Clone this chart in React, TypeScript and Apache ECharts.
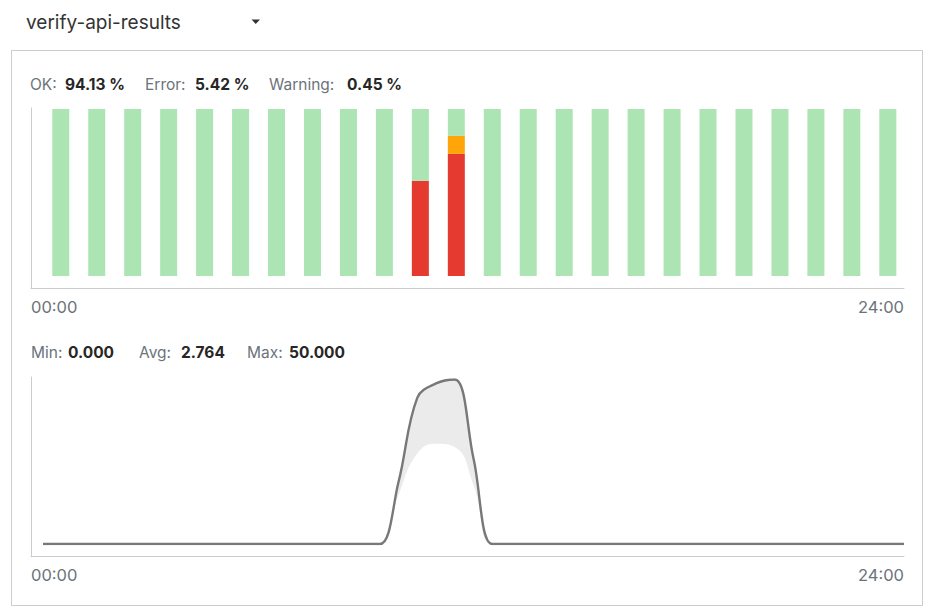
import React, { useEffect, useRef } from "react";
import * as echarts from "echarts";

const hours = [
  "00:00", "01:00", "02:00", "03:00", "04:00", "05:00", "06:00", "07:00",
  "08:00", "09:00", "10:00", "11:00", "12:00", "13:00", "14:00", "15:00",
  "16:00", "17:00", "18:00", "19:00", "20:00", "21:00", "22:00", "23:00",
];
const okPct = [100, 100, 100, 100, 100, 100, 100, 100, 100, 100, 42.9, 16.1, 100, 100, 100, 100, 100, 100, 100, 100, 100, 100, 100, 100];
const errorPct = [0, 0, 0, 0, 0, 0, 0, 0, 0, 0, 57.1, 73.1, 0, 0, 0, 0, 0, 0, 0, 0, 0, 0, 0, 0];
const warningPct = [0, 0, 0, 0, 0, 0, 0, 0, 0, 0, 0, 10.8, 0, 0, 0, 0, 0, 0, 0, 0, 0, 0, 0, 0];

const halfHours = [
  "00:00", "00:30", "01:00", "01:30", "02:00", "02:30", "03:00", "03:30",
  "04:00", "04:30", "05:00", "05:30", "06:00", "06:30", "07:00", "07:30",
  "08:00", "08:30", "09:00", "09:30", "10:00", "10:30", "11:00", "11:30",
  "12:00", "12:30", "13:00", "13:30", "14:00", "14:30", "15:00", "15:30",
  "16:00", "16:30", "17:00", "17:30", "18:00", "18:30", "19:00", "19:30",
  "20:00", "20:30", "21:00", "21:30", "22:00", "22:30", "23:00",
];
const maxValues = [
  0, 0, 0, 0, 0, 0, 0, 0, 0, 0, 0, 0, 0, 0, 0, 0, 0, 0,
  0, 19, 44.5, 48.8, 50, 26, 0,
  0, 0, 0, 0, 0, 0, 0, 0, 0, 0, 0, 0, 0, 0, 0, 0, 0, 0, 0, 0, 0, 0,
];
const lowerValues = [
  0, 0, 0, 0, 0, 0, 0, 0, 0, 0, 0, 0, 0, 0, 0, 0, 0, 0,
  0, 15, 27.5, 30.5, 29.5, 18, 0,
  0, 0, 0, 0, 0, 0, 0, 0, 0, 0, 0, 0, 0, 0, 0, 0, 0, 0, 0, 0, 0, 0,
];

const title = "verify-api-results";
const statusLabels = ["OK:", "Error:", "Warning:"];
const statusValues = ["94.13 %", "5.42 %", "0.45 %"];
const metricLabels = ["Min:", "Avg:", "Max:"];
const metricValues = ["0.000", "2.764", "50.000"];
const axisTickLabels = ["00:00", "24:00"];

const FONT = "Inter";
const GRAY = "#6b737b";
const DARK = "#262626";
const AXIS = "#cccccc";

const statusLabelX = [30, 145, 269];
const statusValueX = [65, 195, 347];
const metricLabelX = [31, 139, 247];
const metricValueX = [68, 181, 289];

const SMOOTH = 0.38;

function App() {
  const ref = useRef<HTMLDivElement>(null);
  useEffect(() => {
    if (!ref.current) return;
    const chart = echarts.init(ref.current, null, { renderer: "svg" });
    const diff = maxValues.map((v, i) => v - lowerValues[i]);

    const statText = (labels: string[], values: string[], lx: number[], vx: number[], y: number) => {
      const els: any[] = [];
      labels.forEach((l, i) => {
        els.push({
          type: "text", x: lx[i], y,
          style: { text: l, font: `15.5px ${FONT}`, fill: GRAY, textVerticalAlign: "middle" },
        });
        els.push({
          type: "text", x: vx[i], y,
          style: { text: values[i], font: `bold 15.5px ${FONT}`, fill: DARK, textVerticalAlign: "middle" },
        });
      });
      return els;
    };

    const frameX = (gridIndex: number) => ({
      type: "value", gridIndex, min: 0, max: 24, interval: 24,
      axisLine: { show: true, lineStyle: { color: AXIS, width: 1 } },
      axisTick: { show: false }, splitLine: { show: false },
      axisLabel: {
        show: true, margin: 10, fontSize: 16.5, fontFamily: FONT, color: GRAY,
        alignMinLabel: "left", alignMaxLabel: "right",
        formatter: (v: number) => (v === 0 ? axisTickLabels[0] : axisTickLabels[1]),
      },
    });
    const frameY = (gridIndex: number) => ({
      type: "value", gridIndex, min: 0, max: 1,
      axisLine: { show: true, lineStyle: { color: AXIS, width: 1 } },
      axisTick: { show: false }, splitLine: { show: false }, axisLabel: { show: false },
    });

    chart.setOption({
      animation: false,
      backgroundColor: "#ffffff",
      textStyle: { fontFamily: FONT },
      grid: [
        { left: 31, right: 29, top: 108, bottom: 326 },
        { left: 42.8, right: 27.2, top: 109, bottom: 338 },
        { left: 31, right: 29, top: 377, bottom: 58 },
        { left: 43, right: 29, top: 379.5, bottom: 70 },
      ],
      xAxis: [
        frameX(0),
        { type: "category", gridIndex: 1, data: hours, show: false },
        frameX(2),
        { type: "category", gridIndex: 3, data: halfHours, boundaryGap: false, show: false },
      ],
      yAxis: [
        frameY(0),
        { type: "value", gridIndex: 1, min: 0, max: 100, show: false },
        frameY(2),
        { type: "value", gridIndex: 3, min: 0, max: 50, show: false },
      ],
      series: [
        {
          name: "Error", type: "bar", xAxisIndex: 1, yAxisIndex: 1, stack: "st",
          barWidth: 17, data: errorPct, itemStyle: { color: "#e53a30" },
        },
        {
          name: "Warning", type: "bar", xAxisIndex: 1, yAxisIndex: 1, stack: "st",
          barWidth: 17, data: warningPct, itemStyle: { color: "#ffa50a" },
        },
        {
          name: "OK", type: "bar", xAxisIndex: 1, yAxisIndex: 1, stack: "st",
          barWidth: 17, data: okPct, itemStyle: { color: "#ace5b3" },
        },
        {
          name: "lower", type: "line", xAxisIndex: 3, yAxisIndex: 3, stack: "band",
          data: lowerValues, smooth: 0.5, symbol: "none",
          lineStyle: { opacity: 0 },
        },
        {
          name: "band", type: "line", xAxisIndex: 3, yAxisIndex: 3, stack: "band",
          data: diff, smooth: SMOOTH, symbol: "none",
          lineStyle: { opacity: 0 }, areaStyle: { color: "#ebebeb", opacity: 1 },
        },
        {
          name: "Max", type: "line", xAxisIndex: 3, yAxisIndex: 3,
          data: maxValues, smooth: SMOOTH, symbol: "none",
          lineStyle: { color: "#787878", width: 2.4 },
        },
      ],
      graphic: [
        {
          type: "rect", shape: { x: 11.5, y: 50.5, width: 911, height: 555 },
          style: { fill: "none", stroke: AXIS, lineWidth: 1 }, silent: true,
        },
        {
          type: "text", x: 26, y: 22,
          style: { text: title, font: `19px ${FONT}`, fill: "#333333", textVerticalAlign: "middle" },
        },
        {
          type: "polygon", shape: { points: [[251.5, 19.5], [260, 19.5], [255.75, 24]] },
          style: { fill: "#333333" },
        },
        ...statText(statusLabels, statusValues, statusLabelX, statusValueX, 84),
        ...statText(metricLabels, metricValues, metricLabelX, metricValueX, 352),
      ],
    });
    return () => chart.dispose();
  }, []);
  return (
    <div
      ref={ref}
      style={{ position: "fixed", left: 0, top: 0, width: 933, height: 614, background: "#fff" }}
    />
  );
}

export default App;
